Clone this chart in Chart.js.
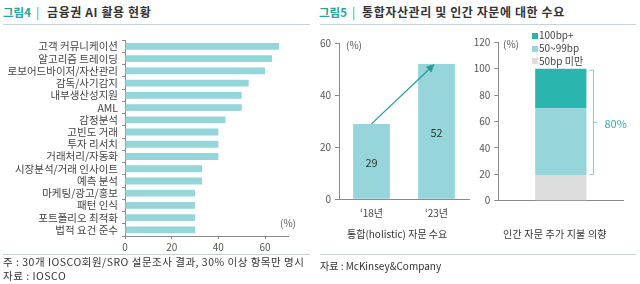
<!DOCTYPE html>
<html><head><meta charset="utf-8">
<script src="https://cdn.jsdelivr.net/npm/chart.js@4.4.1/dist/chart.umd.min.js"></script>
<style>
body{margin:0;width:640px;height:284px;background:#fff;position:relative;overflow:hidden;font-family:"Noto Sans CJK KR","Noto Sans",sans-serif;color:#333;}
.t{position:absolute;white-space:nowrap;font-size:10px;line-height:12px;color:#333;}
.ttl{position:absolute;white-space:nowrap;font-size:12px;line-height:14px;font-weight:bold;color:#333;}
.teal{color:#2aa39c;}
.hr{position:absolute;height:1px;background:#c9d1d8;}
canvas{position:absolute;}
.sq{position:absolute;width:6px;height:6px;}
</style></head><body>

<div class="ttl teal" style="left:3px;top:5px;font-size:11.5px;">그림4</div>
<div class="ttl teal" style="left:36px;top:5px;font-weight:normal;">|</div>
<div class="ttl" style="left:47px;top:5px;letter-spacing:0.6px;">금융권 AI 활용 현황</div>
<div class="hr" style="left:3px;top:24px;width:307px;"></div>

<div class="ttl teal" style="left:319px;top:5px;font-size:11.5px;">그림5</div>
<div class="ttl teal" style="left:352px;top:5px;font-weight:normal;">|</div>
<div class="ttl" style="left:362px;top:5px;letter-spacing:0.6px;">통합자산관리 및 인간 자문에 대한 수요</div>
<div class="hr" style="left:320px;top:24px;width:316px;"></div>

<canvas id="c1" width="320" height="226" style="left:0;top:30px;"></canvas>
<canvas id="c2" width="150" height="226" style="left:320px;top:30px;"></canvas>
<canvas id="c3" width="170" height="226" style="left:470px;top:30px;"></canvas>

<div class="t" style="left:280px;top:217px;color:#555;">(%)</div>
<div class="t" style="left:346px;top:39px;color:#555;">(%)</div>
<div class="t" style="left:503px;top:38px;color:#555;">(%)</div>

<div class="t" style="left:347px;top:228px;">통합(holistic) 자문 수요</div>
<div class="t" style="left:503px;top:228px;letter-spacing:0.2px;">인간 자문 추가 지불 의향</div>

<div id="legend"></div>

<div class="hr" style="left:3px;top:254px;width:307px;"></div>
<div class="hr" style="left:320px;top:254px;width:316px;"></div>
<div class="t" style="left:3px;top:256px;font-size:10.5px;letter-spacing:0.5px;">주 : 30개 IOSCO회원/SRO 설문조사 결과, 30% 이상 항목만 명시</div>
<div class="t" style="left:3px;top:270px;font-size:10.5px;letter-spacing:0.5px;">자료 : IOSCO</div>
<div class="t" style="left:320px;top:260px;">자료 : McKinsey&amp;Company</div>

<script>
// ---- data ----
const aiCategories = ["고객 커뮤니케이션","알고리즘 트레이딩","로보어드바이저/자산관리","감독/사기감지","내부생산성지원","AML","감정분석","고빈도 거래","투자 리서치","거래처리/자동화","시장분석/거래 인사이트","예측 분석","마케팅/광고/홍보","패턴 인식","포트폴리오 최적화","법적 요건 준수"];
const aiValues = [66,63,60,53,50,50,43,40,40,40,33,33,30,30,30,30];
const aiTicks = [0,20,40,60];

const holisticCategories = ["‘18년","‘23년"];
const holisticValues = [29,52];
const holisticTicks = [0,20,40,60];

const payCategories = ["인간 자문 추가 지불 의향"];
const paySeries = ["50bp 미만","50~99bp","100bp+"];
const payValues = [[19],[51],[30]];
const payTicks = [0,20,40,60,80,100,120];
const bracketLabel = "80%";

// ---- styles ----
const FONT = '"Noto Sans CJK KR","Noto Sans",sans-serif';
Chart.defaults.font.family = FONT;
Chart.defaults.font.size = 10;
Chart.defaults.color = '#444';
const BAR = '#96d5d9';
const DARK = '#2bb5af';
const GREY = '#dddddd';
const AXIS = '#8a8a8a';
const payColors = [GREY, BAR, DARK];

function setTicks(arr){ return function(scale){ scale.ticks = arr.map(v=>({value:v})); }; }

// ---- chart 4 ----
new Chart(document.getElementById('c1'), {
  type:'bar',
  data:{labels:aiCategories, datasets:[{data:aiValues, backgroundColor:BAR, barPercentage:0.56, categoryPercentage:1}]},
  options:{
    indexAxis:'y', responsive:false, animation:false, devicePixelRatio:1,
    layout:{padding:{top:6,right:31.6,left:0,bottom:0}},
    plugins:{legend:{display:false}, tooltip:{enabled:false}},
    scales:{
      x:{min:0,max:70, afterBuildTicks:setTicks(aiTicks),
         grid:{drawOnChartArea:false,tickLength:3,color:AXIS}, border:{color:AXIS},
         ticks:{padding:2,color:'#555'}, afterFit:s=>{s.height=20;}},
      y:{grid:{drawOnChartArea:false,tickLength:3,color:AXIS,offset:true}, border:{color:AXIS},
         ticks:{padding:4,color:'#444',autoSkip:false,font:{size:10.5}}, afterFit:s=>{s.width=125;}}
    }
  }
});

// ---- chart 5a ----
const labelsPlugin = {
  id:'centerLabels',
  afterDatasetsDraw(chart){
    const ctx = chart.ctx, meta = chart.getDatasetMeta(0);
    ctx.save();
    ctx.font = '11px '+FONT; ctx.fillStyle='#333'; ctx.textAlign='center'; ctx.textBaseline='middle';
    meta.data.forEach((b,i)=>{ ctx.fillText(String(holisticValues[i]), b.x, (b.y+b.base)/2+1); });
    ctx.restore();
  }
};
const arrowPlugin = {
  id:'arrow',
  afterDatasetsDraw(chart){
    const ctx = chart.ctx, meta = chart.getDatasetMeta(0);
    const a = meta.data[0], b = meta.data[1];
    const x1=a.x, y1=a.y, x2=b.x-2, y2=b.y;
    const ang = Math.atan2(y2-y1, x2-x1);
    ctx.save();
    ctx.strokeStyle='#2a9d98'; ctx.fillStyle='#2a9d98'; ctx.lineWidth=1.3;
    ctx.beginPath(); ctx.moveTo(x1,y1); ctx.lineTo(x2-6*Math.cos(ang), y2-6*Math.sin(ang)); ctx.stroke();
    ctx.beginPath();
    ctx.moveTo(x2,y2);
    ctx.lineTo(x2-8*Math.cos(ang)+4*Math.sin(ang), y2-8*Math.sin(ang)-4*Math.cos(ang));
    ctx.lineTo(x2-8*Math.cos(ang)-4*Math.sin(ang), y2-8*Math.sin(ang)+4*Math.cos(ang));
    ctx.closePath(); ctx.fill();
    ctx.restore();
  }
};
new Chart(document.getElementById('c2'), {
  type:'bar',
  data:{labels:holisticCategories, datasets:[{data:holisticValues, backgroundColor:BAR, barPercentage:0.565, categoryPercentage:1}]},
  options:{
    responsive:false, animation:false, devicePixelRatio:1,
    layout:{padding:{top:13.3,right:1,left:0,bottom:0}},
    plugins:{legend:{display:false}, tooltip:{enabled:false}},
    scales:{
      x:{grid:{drawOnChartArea:false,drawTicks:false}, border:{color:AXIS},
         ticks:{padding:8,color:'#444'}, afterFit:s=>{s.height=56.7;}},
      y:{min:0,max:60, afterBuildTicks:setTicks(holisticTicks),
         grid:{drawOnChartArea:false,tickLength:4,color:AXIS}, border:{color:AXIS},
         ticks:{padding:4,color:'#555'}, afterFit:s=>{s.width=19;}}
    }
  },
  plugins:[labelsPlugin, arrowPlugin]
});

// ---- chart 5b ----
const bracketPlugin = {
  id:'bracket',
  afterDatasetsDraw(chart){
    const ctx = chart.ctx, ys = chart.scales.y;
    const bar = chart.getDatasetMeta(2).data[0];
    const x = bar.x + bar.width/2 + 6.5;
    const top = ys.getPixelForValue(payValues[0][0]+payValues[1][0]+payValues[2][0]) + 1;
    const bot = ys.getPixelForValue(payValues[0][0]) - 1.5;
    const mid = (top+bot)/2;
    ctx.save();
    ctx.strokeStyle='#7fcfcf'; ctx.lineWidth=1;
    ctx.beginPath();
    ctx.moveTo(x-3.5,top+0.5); ctx.lineTo(x+0.5,top+0.5); ctx.lineTo(x+0.5,bot+0.5); ctx.lineTo(x-3.5,bot+0.5);
    ctx.moveTo(x+0.5,mid+0.5); ctx.lineTo(x+4,mid+0.5);
    ctx.stroke();
    ctx.font='11px '+FONT; ctx.fillStyle='#37a9a6'; ctx.textAlign='left'; ctx.textBaseline='middle';
    ctx.fillText(bracketLabel, x+11.5, mid+2);
    ctx.restore();
  }
};
new Chart(document.getElementById('c3'), {
  type:'bar',
  data:{labels:payCategories, datasets:paySeries.map((s,i)=>({label:s, data:payValues[i], backgroundColor:payColors[i], barPercentage:0.41, categoryPercentage:1}))},
  options:{
    responsive:false, animation:false, devicePixelRatio:1,
    layout:{padding:{top:12.3,right:16.7,left:0,bottom:0}},
    plugins:{legend:{display:false}, tooltip:{enabled:false}},
    scales:{
      x:{stacked:true, grid:{drawOnChartArea:false,drawTicks:false}, border:{color:AXIS},
         ticks:{display:false}, afterFit:s=>{s.height=55.3;}},
      y:{stacked:true,min:0,max:120, afterBuildTicks:setTicks(payTicks),
         grid:{drawOnChartArea:false,tickLength:4,color:AXIS}, border:{color:AXIS},
         ticks:{padding:4,color:'#555'}, afterFit:s=>{s.width=28.3;}}
    }
  },
  plugins:[bracketPlugin]
});

// ---- legend (built from series) ----
const lg = document.getElementById('legend');
const legendRows = [35.7, 48.7, 61.3];
paySeries.slice().reverse().forEach((s,i)=>{
  const idx = paySeries.length-1-i;
  const sq = document.createElement('div'); sq.className='sq';
  sq.style.left='532px'; sq.style.top=(legendRows[i]-3)+'px'; sq.style.background=payColors[idx];
  const tx = document.createElement('div'); tx.className='t';
  tx.style.left='539px'; tx.style.top=(legendRows[i]-6.5)+'px'; tx.style.color='#444'; tx.textContent=s;
  lg.appendChild(sq); lg.appendChild(tx);
});
</script>
</body></html>
